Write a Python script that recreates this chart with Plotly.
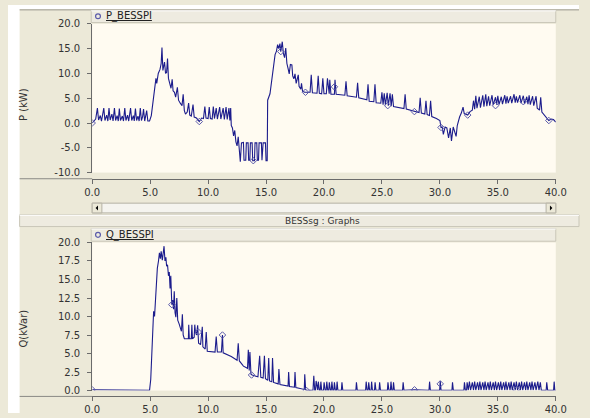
import plotly.graph_objects as go

# ---------------- data ----------------
P_t = [0.0, 0.15, 0.3, 0.45, 0.55, 0.7, 0.8, 1.0, 1.1, 1.25, 1.35, 1.45, 1.55, 1.7, 1.8, 1.92, 2.02, 2.15, 2.25,
       2.34, 2.44, 2.6, 2.7, 2.81, 2.91, 3.05, 3.15, 3.31, 3.41, 3.55, 3.63, 3.73, 3.83, 3.95, 4.05, 4.15, 4.25,
       4.35, 4.43, 4.53, 4.6, 4.7, 4.8, 4.95, 5.1, 5.25, 5.4, 5.5, 5.57, 5.7, 5.85, 5.95, 6.02, 6.1, 6.24, 6.33,
       6.42, 6.5, 6.58, 6.7, 6.8, 6.9, 6.98, 7.1, 7.2, 7.35, 7.45, 7.6, 7.75, 7.85, 7.95, 8.05, 8.2, 8.32, 8.42,
       8.55, 8.7, 8.8, 9.0, 9.24, 9.44, 9.6, 9.72, 9.82, 10.0, 10.1, 10.2, 10.35, 10.45, 10.55, 10.7, 10.8, 11.0,
       11.1, 11.3, 11.4, 11.55, 11.65, 11.8, 11.88, 11.95, 12.0, 12.1, 12.2, 12.3, 12.4, 12.5, 12.6, 12.7, 12.78,
       12.88, 13.05, 13.1, 13.25, 13.3, 13.45, 13.5, 13.6, 13.65, 13.8, 13.85, 14.0, 14.05, 14.2, 14.25, 14.35,
       14.4, 14.6, 14.65, 14.75, 14.95, 15.0, 15.1, 15.14, 15.34, 15.45, 15.56, 15.7, 15.78, 15.9, 16.0, 16.1,
       16.2, 16.27, 16.4, 16.5, 16.6, 16.7, 16.8, 16.9, 17.0, 17.1, 17.23, 17.3, 17.4, 17.5, 17.6, 17.78, 17.85,
       18.0, 18.06, 18.15, 18.34, 18.8, 18.9, 19.0, 19.4, 19.5, 19.6, 19.8, 19.9, 20.0, 20.2, 20.3, 20.4, 20.45,
       20.5, 20.6, 20.9, 20.95, 21.05, 21.8, 21.9, 22.0, 22.8, 22.9, 23.0, 23.7, 23.8, 23.9, 24.3, 24.4, 24.5,
       24.9, 25.0, 25.1, 25.2, 25.3, 25.45, 25.55, 25.7, 25.8, 25.9, 26.0, 26.9, 27.0, 27.1, 27.8, 28.2, 28.3,
       28.4, 28.7, 28.8, 28.9, 29.1, 29.2, 29.3, 29.7, 30.0, 30.1, 30.2, 30.3, 30.45, 30.6, 30.75, 30.9, 31.0,
       31.15, 31.3, 31.4, 31.5, 31.6, 31.7, 31.85, 32.0, 32.1, 32.4, 32.6, 32.8, 32.9, 33.0, 33.1, 33.2, 33.4,
       33.5, 33.7, 33.8, 33.96, 34.05, 34.2, 34.3, 34.5, 34.6, 34.8, 34.9, 35.0, 35.1, 35.3, 35.4, 35.6, 35.7,
       35.8, 35.9, 36.1, 36.2, 36.4, 36.5, 36.6, 36.7, 36.9, 37.0, 37.2, 37.3, 37.5, 37.6, 37.7, 37.8, 38.0,
       38.1, 38.3, 38.4, 38.6, 38.7, 38.8, 39.0, 39.2, 39.4, 39.6, 39.8, 40.0]
P_v = [0.0, 0.5, 0.8, 3.0, 0.6, 1.5, 0.4, 3.0, 0.5, 1.6, 0.4, 3.0, 0.6, 1.8, 0.4, 3.0, 0.5, 1.5, 0.4,
       2.9, 0.5, 1.4, 0.4, 3.0, 0.5, 1.6, 0.4, 3.0, 0.5, 1.5, 0.4, 2.9, 0.5, 1.4, 0.4, 3.0, 0.5,
       1.3, 2.8, 0.4, 1.2, 2.5, 0.4, 0.4, 1.5, 4.0, 7.1, 9.0, 8.0, 10.0, 10.8, 12.0, 15.2, 10.6, 12.3, 10.0,
       10.2, 13.0, 9.0, 8.0, 7.0, 8.8, 6.5, 6.2, 5.2, 7.2, 4.6, 4.0, 3.5, 5.8, 2.5, 1.8, 2.2, 4.0, 1.6,
       1.4, 3.7, 1.2, 1.0, 0.3, 1.0, 0.9, 3.3, 1.0, 0.9, 3.2, 0.9, 0.8, 3.3, 0.9, 3.0, 0.8, 3.2,
       0.8, 3.0, 0.7, 3.2, 0.7, 3.0, 0.5, 3.0, -0.5, -1.0, -2.6, -1.5, -3.8, -4.6, -2.8, -5.0, -7.8,
       -4.0, -3.9, -7.5, -7.5, -4.0, -4.0, -7.5, -7.5, -4.0, -4.0, -7.6, -7.6, -4.0, -4.0, -7.5, -7.5,
       -4.0, -4.0, -7.5, -4.0, -4.0, -7.6, -7.6, 4.6, 5.9, 8.0, 10.5, 12.5, 13.8, 14.5, 15.8, 15.0,
       16.0, 14.4, 16.4, 14.0, 13.2, 15.1, 12.0, 11.0, 9.9, 11.8, 11.7, 9.5, 8.9, 9.9, 8.0, 9.7, 7.4,
       6.8, 8.0, 6.4, 6.2, 6.2, 9.7, 6.1, 6.0, 9.5, 6.0, 5.9, 9.0, 5.9, 5.9, 9.0, 5.9, 5.9,
       8.7, 5.8, 5.8, 8.7, 5.8, 5.6, 8.4, 5.5, 5.2, 8.1, 5.1, 4.7, 7.8, 4.4, 4.3, 7.8, 4.1,
       4.0, 6.2, 3.7, 6.0, 3.6, 6.1, 3.5, 6.0, 3.4, 5.8, 3.3, 2.9, 5.8, 2.8, 2.3, 2.1, 5.1,
       2.0, 1.8, 4.5, 1.7, 1.5, 4.5, 1.3, 0.9, 0.5, -0.9, -0.8, -2.3, -0.8, -1.0, -3.0, -1.0, -3.6,
       -0.8, -2.3, -2.7, -0.5, 0.5, 1.2, 2.0, 3.2, 1.9, 1.6, 2.3, 2.6, 4.5, 2.8, 5.5, 3.0, 5.3,
       3.1, 5.6, 3.3, 5.8, 3.4, 5.4, 3.5, 5.6, 3.6, 5.2, 3.7, 5.5, 3.7, 5.3, 3.8, 5.6, 3.9,
       5.4, 4.0, 5.4, 4.0, 5.8, 4.1, 5.4, 4.1, 5.6, 4.0, 5.5, 3.9, 5.3, 3.8, 5.6, 3.7, 5.4,
       3.5, 5.4, 3.0, 2.6, 5.2, 2.2, 1.6, 1.2, 0.5, 0.8, 0.7, 0.2]
P_mark_t = [0.0, 9.24, 13.9, 16.27, 18.4, 20.9, 25.5, 27.8, 30.1, 32.4, 34.8, 37.2, 39.4]
P_mark_v = [0.0, 0.3, -7.6, 14.4, 6.2, 7.3, 3.5, 2.3, -0.9, 1.6, 3.5, 4.3, 0.5]

Q_t = [0.0, 4.95, 5.05, 5.15, 5.26, 5.3, 5.38, 5.5, 5.62, 5.72, 5.8, 5.88, 5.95, 6.05, 6.12, 6.2, 6.28,
       6.36, 6.42, 6.5, 6.58, 6.65, 6.72, 6.78, 6.87, 6.95, 7.02, 7.08, 7.15, 7.22, 7.3, 7.38, 7.5, 7.6,
       7.7, 7.78, 7.85, 7.95, 8.3, 8.33, 8.38, 8.55, 8.6, 8.65, 8.8, 8.85, 8.9, 9.0, 9.1, 9.18, 9.35,
       9.5, 9.55, 9.75, 9.84, 9.93, 10.6, 10.7, 10.8, 11.15, 11.24, 11.3, 11.7, 12.0, 12.5, 12.6, 12.7,
       13.05, 13.4, 13.47, 13.55, 13.61, 13.7, 13.8, 14.2, 14.3, 14.45, 14.55, 14.75, 14.86, 14.95, 15.15,
       15.23, 15.3, 15.5, 15.56, 15.65, 16.05, 16.11, 16.2, 16.9, 16.95, 17.02, 17.45, 17.5, 17.57, 18.3,
       18.34, 18.42, 18.5, 19.05, 19.12, 19.2, 19.27, 19.32, 19.4, 19.46, 19.51, 19.6, 19.68, 19.73, 19.8,
       19.96, 20.01, 20.1, 20.19, 20.24, 20.32, 20.41, 20.46, 20.55, 20.63, 20.68, 20.76, 20.85, 20.9,
       20.98, 21.08, 21.13, 21.2, 21.5, 21.55, 21.62, 22.75, 22.8, 22.87, 23.59, 23.64, 23.72, 23.81,
       23.86, 23.94, 24.06, 24.11, 24.18, 24.36, 24.41, 24.48, 24.75, 24.8, 24.87, 25.47, 25.52, 25.6,
       25.73, 25.78, 25.85, 25.95, 26.0, 26.07, 26.78, 26.83, 26.9, 27.81, 29.06, 29.11, 29.18, 29.98,
       30.03, 30.1, 31.04, 31.09, 31.16, 32.07, 32.12, 32.2, 32.3, 32.35, 32.45, 32.55, 32.65, 32.8, 32.9,
       33.0, 33.1, 33.25, 33.35, 33.45, 33.55, 33.7, 33.8, 33.9, 34.0, 34.15, 34.25, 34.35, 34.45, 34.6,
       34.7, 34.8, 34.9, 35.05, 35.15, 35.25, 35.35, 35.5, 35.6, 35.7, 35.8, 35.95, 36.05, 36.15, 36.25,
       36.4, 36.5, 36.6, 36.7, 36.85, 36.95, 37.05, 37.15, 37.3, 37.4, 37.5, 37.6, 37.75, 37.85, 37.95,
       38.05, 38.2, 38.3, 38.45, 38.55, 38.67, 38.75, 39.17, 39.22, 39.3, 39.81, 39.86, 39.92, 40.0]
Q_v = [0.1, 0.05, 1.5, 4.5, 8.0, 10.7, 10.0, 13.5, 16.5, 17.5, 18.6, 17.8, 18.8, 17.6, 19.0, 19.5, 17.5,
       18.0, 16.8, 17.0, 15.5, 16.0, 13.8, 15.5, 11.6, 12.2, 11.0, 13.4, 10.5, 9.9, 12.5, 9.5, 9.0, 8.5,
       8.0, 10.3, 7.5, 7.0, 7.0, 8.9, 7.0, 7.0, 8.9, 7.0, 7.2, 8.9, 8.0, 7.5, 8.8, 6.4, 6.2,
       8.6, 5.9, 5.6, 7.9, 5.3, 5.2, 7.3, 5.2, 5.2, 7.5, 5.1, 4.8, 4.6, 4.1, 6.4, 4.0,
       3.3, 3.0, 5.5, 2.7, 5.2, 2.2, 2.1, 1.9, 1.85, 4.7, 1.8, 1.7, 4.7, 1.6, 1.4,
       4.4, 1.3, 1.2, 4.4, 1.1, 0.9, 2.9, 0.8, 0.6, 2.5, 0.55, 0.45, 2.5, 0.4, 0.15,
       2.2, 0.1, 0.05, 0.05, 2.0, 0.05, 0.05, 1.3, 0.05, 0.05, 1.2, 0.05, 0.05, 1.2, 0.05,
       0.05, 1.1, 0.05, 0.05, 1.2, 0.05, 0.05, 1.1, 0.05, 0.05, 1.2, 0.05, 0.05, 1.1,
       0.05, 0.05, 1.2, 0.05, 0.05, 1.1, 0.05, 0.05, 1.1, 0.05, 0.05, 1.2, 0.05, 0.05,
       1.1, 0.05, 0.05, 1.2, 0.05, 0.05, 1.1, 0.05, 0.05, 1.1, 0.05, 0.05, 1.1, 0.05,
       0.05, 1.2, 0.05, 0.05, 1.1, 0.05, 0.05, 1.1, 0.05, 0.1, 0.05, 1.2, 0.05, 0.05,
       1.3, 0.05, 0.05, 1.1, 0.05, 0.05, 1.1, 0.05, 0.05, 1.1, 0.05, 1.2, 0.05, 1.1, 0.05,
       1.2, 0.05, 1.1, 0.05, 1.2, 0.05, 1.1, 0.05, 1.2, 0.05, 1.1, 0.05, 1.2, 0.05, 1.1,
       0.05, 1.2, 0.05, 1.1, 0.05, 1.2, 0.05, 1.1, 0.05, 1.2, 0.05, 1.1, 0.05, 1.2, 0.05,
       1.1, 0.05, 1.2, 0.05, 1.1, 0.05, 1.2, 0.05, 1.1, 0.05, 1.2, 0.05, 1.1, 0.05, 1.2,
       0.05, 1.1, 0.05, 1.2, 0.05, 1.1, 0.05, 0.05, 1.1, 0.05, 0.05, 1.2, 0.05, 0.05]
Q_mark_t = [0.0, 6.87, 9.16, 11.24, 13.75, 18.5, 27.81, 30.03, 36.6]
Q_mark_v = [0.1, 11.6, 7.9, 7.5, 2.1, 0.0, 0.1, 0.9, 0.1]

P_ticks = [-10, -5, 0, 5, 10, 15, 20]
Q_ticks = [0, 2.5, 5, 7.5, 10, 12.5, 15, 17.5, 20]
T_ticks = [0, 5, 10, 15, 20, 25, 30, 35, 40]

# ---------------- layout helpers ----------------
W, H = 590, 418
def fx(px):
    return px / W
def fy(py):
    return 1 - py / H

BG = "#ECE9D8"
PLOT_BG = "#FFFBF1"
LINE = "#1c1c8c"
MARK = "#5a5aaa"
TXT = "#333333"
FONT = "DejaVu Sans"

fig = go.Figure()
fig.add_trace(go.Scatter(x=P_t, y=P_v, mode="lines", line=dict(color=LINE, width=1.1),
                         xaxis="x", yaxis="y", showlegend=False, hoverinfo="skip"))
fig.add_trace(go.Scatter(x=P_mark_t, y=P_mark_v, mode="markers",
                         marker=dict(symbol="diamond-open", size=5, color=MARK, line=dict(width=1)),
                         xaxis="x", yaxis="y", showlegend=False, hoverinfo="skip"))
fig.add_trace(go.Scatter(x=Q_t, y=Q_v, mode="lines", line=dict(color=LINE, width=1.1),
                         xaxis="x2", yaxis="y2", showlegend=False, hoverinfo="skip"))
fig.add_trace(go.Scatter(x=Q_mark_t, y=Q_mark_v, mode="markers",
                         marker=dict(symbol="diamond-open", size=5, color=MARK, line=dict(width=1)),
                         xaxis="x2", yaxis="y2", showlegend=False, hoverinfo="skip"))

ax_common = dict(showgrid=False, zeroline=False, showline=True, linecolor="#6b6b6b", linewidth=1,
                 ticks="outside", ticklen=4, tickcolor="#6b6b6b",
                 tickfont=dict(family=FONT, size=10, color=TXT), fixedrange=True)

fig.update_layout(
    width=W, height=H, margin=dict(l=0, r=0, t=0, b=0),
    paper_bgcolor=BG, plot_bgcolor=PLOT_BG,
    xaxis=dict(domain=[fx(87), fx(566)], range=[0, 40], anchor="free", position=fy(178),
               tickvals=T_ticks, ticktext=[f"{v:.1f}" for v in T_ticks], **ax_common),
    yaxis=dict(domain=[fy(171.7), fy(19.3)], range=[-10, 20], anchor="x", ticklabelstandoff=5,
               tickvals=P_ticks, ticktext=[f"{v:.1f}" for v in P_ticks], **ax_common),
    xaxis2=dict(domain=[fx(87), fx(566)], range=[0, 40], anchor="free", position=fy(401),
                tickvals=T_ticks, ticktext=[f"{v:.1f}" for v in T_ticks], **ax_common),
    yaxis2=dict(domain=[fy(395), fy(243.3)], range=[0, 20], anchor="x2", ticklabelstandoff=5,
                tickvals=Q_ticks, ticktext=[f"{v:.1f}" for v in Q_ticks], **ax_common),
)

shapes = []
def rect(x0, y0, x1, y1, fill, line=None, lw=1):
    shapes.append(dict(type="rect", xref="paper", yref="paper", x0=fx(x0), x1=fx(x1), y0=fy(y1), y1=fy(y0),
                       fillcolor=fill, line=dict(color=line or fill, width=lw if line else 0)))
def hline(x0, x1, y, color, w=1):
    shapes.append(dict(type="line", xref="paper", yref="paper", x0=fx(x0), x1=fx(x1), y0=fy(y), y1=fy(y),
                       line=dict(color=color, width=w)))

# white frame at left/top
rect(0, 0, 12, H, "#FFFFFF")
rect(0, 0, W, 4, "#FFFFFF")
hline(12, W, 5, "#9c9a90")
# legend header bars
for (y0, y1) in [(5.5, 18), (229, 242)]:
    rect(86, y0, 566, y1, "#EEEBE0", "#C9C6B8")
    hline(86, 566, y0 + 0.5, "#FFFFFF")
# axis separator lines
hline(12, 87, 178, "#8a8a84")
hline(12, 87, 401, "#8a8a84")
# scrollbar
rect(87, 203, 566, 213, "#F5F4EF", "#B5B2A5")
rect(87, 203, 97, 213, "#ECE9D8", "#B5B2A5")
rect(556, 203, 566, 213, "#ECE9D8", "#B5B2A5")
shapes.append(dict(type="path", xref="paper", yref="paper",
                   path=f"M {fx(90.5)} {fy(208)} L {fx(93)} {fy(205.5)} L {fx(93)} {fy(210.5)} Z",
                   fillcolor="#000000", line=dict(width=0)))
shapes.append(dict(type="path", xref="paper", yref="paper",
                   path=f"M {fx(562.5)} {fy(208)} L {fx(560)} {fy(205.5)} L {fx(560)} {fy(210.5)} Z",
                   fillcolor="#000000", line=dict(width=0)))
# title band
rect(12, 215, W, 227, "#EEEBE0", "#C9C6B8")
hline(12, W, 215.5, "#FFFFFF")
# legend circles
for cy in [11.5, 235.5]:
    shapes.append(dict(type="circle", xref="paper", yref="paper", x0=fx(90.5), x1=fx(95.5),
                       y0=fy(cy + 2.5), y1=fy(cy - 2.5), line=dict(color="#5a5aaa", width=1.2)))

annotations = [
    dict(x=fx(99), y=fy(11.5), xref="paper", yref="paper", xanchor="left", yanchor="middle",
         text="<u>P_BESSPI</u>", showarrow=False, font=dict(family=FONT, size=10, color="#222222")),
    dict(x=fx(99), y=fy(235.5), xref="paper", yref="paper", xanchor="left", yanchor="middle",
         text="<u>Q_BESSPI</u>", showarrow=False, font=dict(family=FONT, size=10, color="#222222")),
    dict(x=fx(325), y=fy(221), xref="paper", yref="paper", xanchor="center", yanchor="middle",
         text="BESSsg : Graphs", showarrow=False, font=dict(family=FONT, size=9, color=TXT)),
    dict(x=fx(16), y=fy(102), xref="paper", yref="paper", xanchor="center", yanchor="middle",
         text="P (kW)", textangle=-90, showarrow=False, font=dict(family=FONT, size=10, color=TXT)),
    dict(x=fx(16), y=fy(331), xref="paper", yref="paper", xanchor="center", yanchor="middle",
         text="Q(kVar)", textangle=-90, showarrow=False, font=dict(family=FONT, size=10, color=TXT)),
]

fig.update_layout(shapes=shapes, annotations=annotations)
fig.write_html("out.html")
